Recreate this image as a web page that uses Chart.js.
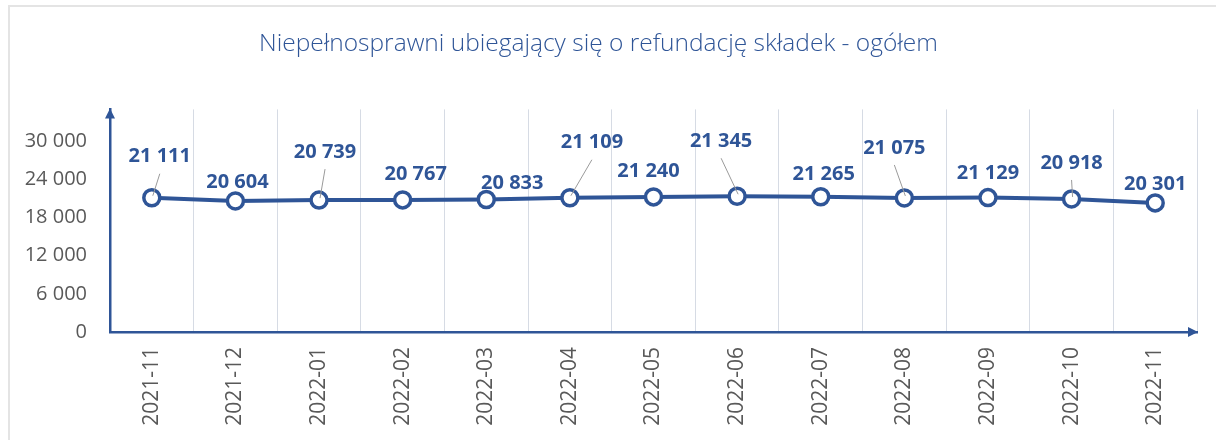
<!DOCTYPE html>
<html>
<head>
<meta charset="utf-8">
<script src="https://cdn.jsdelivr.net/npm/chart.js@4"></script>
<style>
  body { margin: 0; background: #fff; }
  .wrap { position: relative; width: 1216px; height: 440px; overflow: hidden; }
  .frame { position: absolute; left: 8px; top: 5px; width: 1400px; height: 600px; border: 2px solid #e4e4e4; }
  #chart { position: absolute; left: 0; top: 0; }
</style>
</head>
<body>
<div class="wrap">
  <div class="frame"></div>
  <canvas id="chart" width="1216" height="440"></canvas>
</div>
<script>
/* ----------- Data ----------- */
const months = ['2021-11', '2021-12', '2022-01', '2022-02', '2022-03', '2022-04', '2022-05',
                '2022-06', '2022-07', '2022-08', '2022-09', '2022-10', '2022-11'];
const applicants = [21111, 20604, 20739, 20767, 20833, 21109, 21240, 21345, 21265, 21075, 21129, 20918, 20301];
const yTicks = [0, 6000, 12000, 18000, 24000, 30000];
const chartTitle = 'Niepełnosprawni ubiegający się o refundację składek - ogółem';

// label placement relative to point: [dx, dy, leader line]
const labelOffsets = [
  [8, -41, true], [2, -19, false], [6, -48, true], [13, -26, false], [26, -16, false],
  [22, -55, true], [-5, -26, false], [-16, -55, true], [3, -22, false], [-10, -50, true],
  [0, -24, false], [0, -36, true], [0, -19, false]
];

const BLUE = '#2f5597';
const GRAY = '#595959';

function fmt(v){
  return String(v).replace(/\B(?=(\d{3})+(?!\d))/g, ' ');
}

/* ----------- Plugins ----------- */
const decorPlugin = {
  id: 'decor',
  afterDatasetsDraw(chart){
    const ctx = chart.ctx;
    const meta = chart.getDatasetMeta(0);
    ctx.save();
    // labels + leader lines
    ctx.font = 'bold 20px "Open Sans"';
    ctx.textAlign = 'center';
    ctx.textBaseline = 'middle';
    meta.data.forEach((pt, i) => {
      const [dx, dy, leader] = labelOffsets[i];
      const lx = pt.x + dx, ly = pt.y + dy;
      if(leader){
        ctx.strokeStyle = '#9a9a9a';
        ctx.lineWidth = 1;
        ctx.beginPath();
        ctx.moveTo(lx, ly + 17);
        ctx.lineTo(pt.x + 1, pt.y - 2);
        ctx.stroke();
      }
      ctx.fillStyle = BLUE;
      ctx.fillText(fmt(applicants[i]), lx, ly);
    });
    ctx.restore();
  },
  afterDraw(chart){
    const ctx = chart.ctx;
    const a = chart.chartArea;
    ctx.save();
    ctx.fillStyle = BLUE;
    // y axis arrow
    ctx.beginPath();
    ctx.moveTo(a.left, a.top - 1);
    ctx.lineTo(a.left - 5, a.top + 9);
    ctx.lineTo(a.left + 5, a.top + 9);
    ctx.closePath();
    ctx.fill();
    // x axis arrow
    ctx.beginPath();
    ctx.moveTo(a.right + 1, a.bottom);
    ctx.lineTo(a.right - 9, a.bottom - 5);
    ctx.lineTo(a.right - 9, a.bottom + 5);
    ctx.closePath();
    ctx.fill();
    ctx.restore();
  }
};

/* ----------- Chart ----------- */
const ctx = document.getElementById('chart').getContext('2d');
new Chart(ctx, {
  type: 'line',
  data: {
    labels: months,
    datasets: [{
      label: 'ogółem',
      data: applicants,
      borderColor: BLUE,
      borderWidth: 4,
      pointRadius: 8,
      pointBorderWidth: 3.5,
      pointBackgroundColor: '#fff',
      pointBorderColor: BLUE,
      tension: 0
    }]
  },
  options: {
    responsive: false,
    animation: false,
    layout: { padding: { left: 0, right: 19, top: 0, bottom: 0 } },
    plugins: {
      legend: { display: false },
      tooltip: { enabled: false },
      title: {
        display: true,
        text: chartTitle,
        color: BLUE,
        font: { family: '"Open Sans"', size: 24.5, weight: 300, lineHeight: 1.2 },
        padding: { top: 29, bottom: 51 }
      }
    },
    scales: {
      x: {
        offset: true,
        grid: { display: true, offset: true, color: '#d6dbe4', lineWidth: 1, drawTicks: false },
        border: { display: true, color: BLUE, width: 2.5 },
        ticks: {
          color: GRAY, padding: 15, minRotation: 90, maxRotation: 90,
          font: { family: '"Open Sans"', size: 21 }
        },
        afterFit(scale){ scale.height = 108; }
      },
      y: {
        min: 0,
        max: 35000,
        grid: { display: false, drawTicks: false },
        border: { display: true, color: BLUE, width: 2.5 },
        ticks: {
          stepSize: 6000, color: GRAY, padding: 23,
          font: { family: '"Open Sans"', size: 20 },
          callback: v => fmt(v)
        },
        afterBuildTicks(scale){ scale.ticks = yTicks.map(v => ({ value: v })); },
        afterFit(scale){ scale.width = 110; }
      }
    }
  },
  plugins: [decorPlugin]
});
</script>
</body>
</html>
